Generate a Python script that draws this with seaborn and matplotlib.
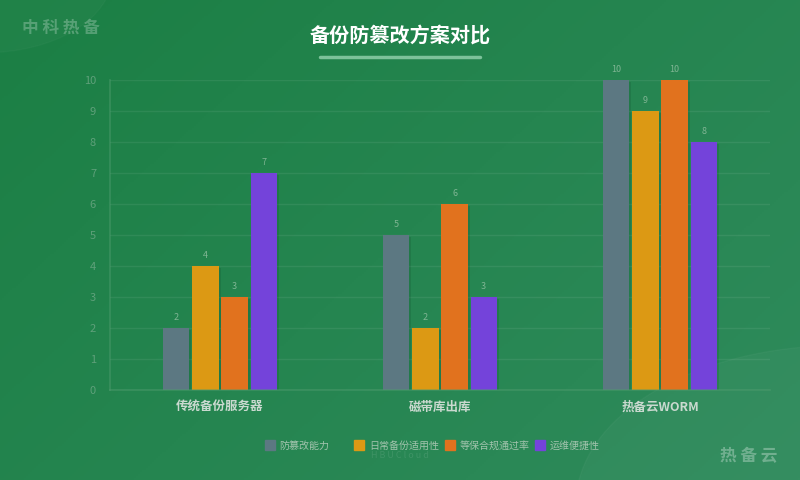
import numpy as np
import pandas as pd
import matplotlib
matplotlib.use("Agg")
import matplotlib.pyplot as plt
import matplotlib.patheffects as pe
import seaborn as sns

# data
schemes = ["传统备份服务器", "磁带库出库", "热备云WORM"]
metrics = ["防篡改能力", "日常备份适用性", "等保合规通过率", "运维便捷性"]
tamper = [2, 5, 10]
daily = [4, 2, 9]
compliance = [3, 6, 10]
ops = [7, 3, 8]
colors = ["#5c7882", "#dc9914", "#e1721e", "#7443da"]

rows = []
for i, s in enumerate(schemes):
    for m, vals in zip(metrics, [tamper, daily, compliance, ops]):
        rows.append({"方案": s, "指标": m, "分值": vals[i]})
df = pd.DataFrame(rows)

sns.set_theme(style="white")
plt.rcParams["font.family"] = ["Noto Sans CJK SC", "DejaVu Sans"]

fig = plt.figure(figsize=(8, 4.8), dpi=100)

# background gradient
bg = fig.add_axes([0, 0, 1, 1], zorder=-10)
yy, xx = np.mgrid[0:1:240j, 0:1:400j]
t = (xx * 0.6 + yy * 0.4)
c0 = np.array([0x1b, 0x7f, 0x44]) / 255
c1 = np.array([0x2f, 0x8b, 0x5c]) / 255
img = c0[None, None, :] * (1 - t[..., None]) + c1[None, None, :] * t[..., None]
bg.imshow(img, extent=[0, 1, 0, 1], aspect="auto", origin="upper")
bg.add_patch(plt.Circle((-0.02, 1.05), 0.16, color="white", alpha=0.025, transform=bg.transAxes))
bg.add_patch(plt.Circle((1.05, -0.05), 0.33, color="white", alpha=0.03, transform=bg.transAxes))
bg.set_xlim(0, 1)
bg.set_ylim(0, 1)
bg.axis("off")

ax = fig.add_axes([0.1375, 0.1875, 0.825, 0.6458])
ax.set_facecolor("none")
sns.barplot(data=df, x="方案", y="分值", hue="指标", palette=colors,
            width=0.53, gap=0.1, ax=ax, legend=False, saturation=1)

for p in ax.patches:
    p.set_linewidth(0)
    p.set_path_effects([pe.SimplePatchShadow(offset=(1.5, -1.5), shadow_rgbFace="#0b3a20", alpha=0.15), pe.Normal()])

for cont in ax.containers:
    ax.bar_label(cont, padding=4, fontsize=6.5, color="#7fb593")

ax.set_ylim(0, 10)
ax.set_yticks(range(0, 11))
ax.grid(axis="y", color="#ffffff", alpha=0.07, linewidth=1)
ax.set_axisbelow(True)
for s in ["top", "right"]:
    ax.spines[s].set_visible(False)
ax.spines["left"].set_color("#4f9c6e")
ax.spines["bottom"].set_color("#4f9c6e")
ax.spines["left"].set_alpha(0.5)
ax.spines["bottom"].set_alpha(0.5)
ax.tick_params(axis="y", colors="#5fa07a", labelsize=8, length=0, pad=10)
ax.tick_params(axis="x", colors="#c9d9cf", labelsize=9, length=0, pad=8)
for lbl in ax.get_xticklabels():
    lbl.set_fontweight("bold")
ax.set_xlabel("")
ax.set_ylabel("")

# title
fig.text(0.5, 0.927, "备份防篡改方案对比", ha="center", va="center",
         fontsize=14.5, fontweight="bold", color="white")
fig.add_artist(plt.Line2D([0.4, 0.6], [0.881, 0.881], color="#7dc29a", linewidth=2.5,
                          transform=fig.transFigure, solid_capstyle="round"))

# watermarks
fig.text(0.028, 0.942, "中 科 热 备", ha="left", va="center", fontsize=12,
         fontweight="bold", color="white", alpha=0.25)
fig.text(0.972, 0.05, "热 备 云", ha="right", va="center", fontsize=12,
         fontweight="bold", color="white", alpha=0.3)
fig.text(0.5, 0.05, "H B U C l o u d", ha="center", va="center", fontsize=6.5,
         color="white", alpha=0.1)

# legend
leg_x = [0.331, 0.443, 0.556, 0.669]
for x, m, c in zip(leg_x, metrics, colors):
    fig.add_artist(plt.Rectangle((x, 0.063), 0.0125, 0.021, color=c,
                                 transform=fig.transFigure))
    fig.text(x + 0.018, 0.071, m, ha="left", va="center", fontsize=7.2, color="#a3c4ae")

fig.savefig("out.png", dpi=100)
